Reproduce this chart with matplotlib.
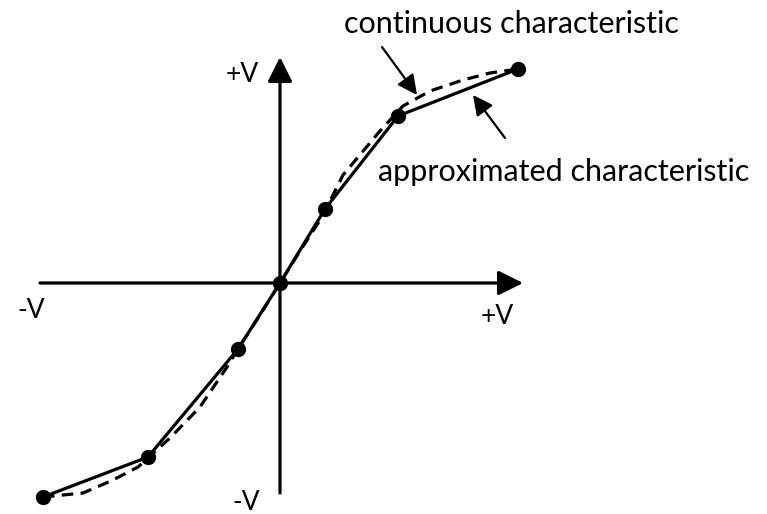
import matplotlib
matplotlib.use('Agg')
from matplotlib import pyplot as plt

# approximated (piecewise linear) characteristic, breakpoints
approx_x = [-237, -132, -42, 0, 45, 118, 238]
approx_y = [-214, -174, -66, 0, 74, 167, 214]

# continuous characteristic
cont_x = [-237, -197, -167, -142, -110, -80, -53, -42, -20, 0, 20, 42, 63, 100, 123, 150, 183, 210, 238]
cont_y = [-214, -210, -197, -184, -155, -124, -84, -66, -32, 0, 32, 66, 108, 152, 177, 192, 203, 210, 214]

plt.rcParams['font.family'] = ['Lato', 'DejaVu Sans']

fig = plt.figure(figsize=(7.67, 5.14), dpi=100)
ax = fig.add_axes([0, 0, 1, 1])
ax.set_xlim(-280, 487)
ax.set_ylim(-231, 283)
ax.axis('off')

arr = dict(arrowstyle='-|>,head_length=0.6,head_width=0.3', lw=2.3, color='black',
           mutation_scale=25, shrinkA=0, shrinkB=0)
# axes
ax.annotate('', xy=(243, 0), xytext=(-240, 0), arrowprops=arr)
ax.annotate('', xy=(0, 226), xytext=(0, -210), arrowprops=arr)

ax.plot(cont_x, cont_y, color='black', lw=2.3, ls=(0, (3.6, 2.3)), zorder=3)
ax.plot(approx_x, approx_y, color='black', lw=2.3, marker='o', ms=10, zorder=4)

fs = 19
ax.text(-38, 209, '+V', fontsize=fs, ha='center', va='center')
ax.text(-249, -28, '-V', fontsize=fs, ha='center', va='center')
ax.text(217, -33, '+V', fontsize=fs, ha='center', va='center')
ax.text(-34, -220, '-V', fontsize=fs, ha='center', va='center')

ax.text(231, 259, 'continuous characteristic', fontsize=22, ha='center', va='center')
ax.text(284, 111, 'approximated characteristic', fontsize=22, ha='center', va='center')

arr2 = dict(arrowstyle='-|>,head_length=0.6,head_width=0.3', lw=1.6, color='black',
            mutation_scale=20, shrinkA=0, shrinkB=0)
ax.annotate('', xy=(137, 188), xytext=(102, 236), arrowprops=arr2)
ax.annotate('', xy=(193, 188), xytext=(225, 145), arrowprops=arr2)

fig.savefig('out.png', dpi=100)
